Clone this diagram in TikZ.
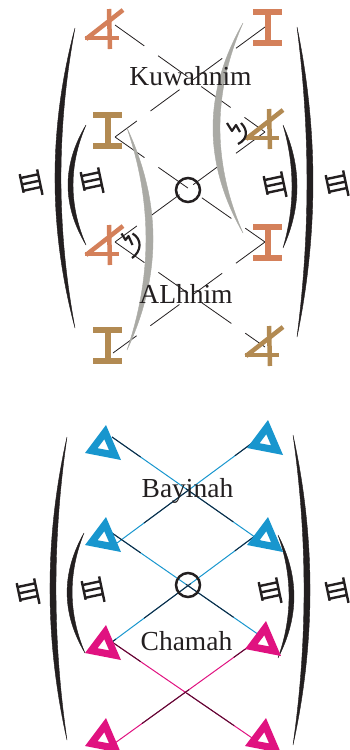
\documentclass[tikz,border=0pt]{standalone}
\usepackage{fontspec}
\setmainfont{Liberation Serif}
\definecolor{orangeG}{RGB}{212,128,90}
\definecolor{tanG}{RGB}{178,138,82}
\definecolor{cyanG}{RGB}{24,150,206}
\definecolor{magG}{RGB}{224,18,128}
\definecolor{navyG}{RGB}{20,40,62}
\definecolor{maroonG}{RGB}{85,15,48}
\definecolor{grayG}{RGB}{170,170,165}
\definecolor{inkG}{RGB}{35,31,32}
\begin{document}
\begin{tikzpicture}[x=1pt,y=-1pt,
  txt/.style={font=\fontsize{27.5}{30}\selectfont, text=inkG, inner sep=0pt, anchor=base},
  dashline/.style={draw=inkG, line width=0.8pt, dash pattern=on 36pt off 17pt},
  cyanline/.style={draw=cyanG, line width=1pt},
  navydash/.style={draw=navyG, line width=1pt, dash pattern=on 35pt off 55pt on 58pt off 35pt},
  magline/.style={draw=magG, line width=1pt},
  maroondash/.style={draw=maroonG, line width=1pt, dash pattern=on 35pt off 55pt on 58pt off 35pt},
  paren/.style={fill=inkG, draw=inkG, line width=0.4pt},
  grayarc/.style={fill=grayG, draw=grayG, line width=0.4pt},
  ring/.style={draw=inkG, line width=2.5pt, circle, minimum size=24pt, inner sep=0pt},
  alephg/.pic={
    \draw[line width=4.5pt] (24,1) -- (25,41);
    \draw[line width=4.5pt] (0,30) -- (34,30);
    \draw[line width=4.5pt] (1,31) -- (38,2);
  },
  ig/.pic={
    \draw[line width=6pt] (0,3) -- (29,3) (0,34) -- (29,34) (14.5,3) -- (14.5,34);
  },
  trig/.pic={
    \fill[even odd rule] (21,0) -- (0,28) -- (36,35) -- cycle
      (19.3,14.2) -- (12.6,23.2) -- (24.1,25.4) -- cycle;
  },
  hethg/.pic={
    \begin{scope}[rotate=12, draw=inkG, line width=2.4pt]
      \draw (-9,-12) -- (-9,7);
      \draw (9,-13) -- (9,13);
      \draw (-9,-8) -- (9,-8) (-9,-1.5) -- (9,-1.5) (-9,5) -- (9,5);
    \end{scope}
  }
]
\useasboundingbox (0,0) rectangle (349,750);

% ---------------- top diagram ----------------
\coordinate (a1e) at (115,25);
\coordinate (i1e) at (265,27);
\coordinate (i2e) at (115,137);
\coordinate (a2e) at (265,132);
\coordinate (a3e) at (115,242);
\coordinate (i3e) at (265,242);
\coordinate (i4e) at (113,353);
\coordinate (a4e) at (265,347);

\draw[dashline] (a1e) -- (a2e);
\draw[dashline] (i1e) -- (i2e);
\draw[dashline] (i2e) -- (i3e);
\draw[dashline] (a2e) -- (a3e);
\draw[dashline] (a3e) -- (a4e);
\draw[dashline] (i3e) -- (i4e);

% gray arcs
\path[grayarc] (127,128) .. controls (161.7,202) and (161.7,276) .. (127,350)
  .. controls (152.3,276) and (152.3,202) .. cycle;
\path[grayarc] (243,23) .. controls (203,93) and (203,163) .. (243,233)
  .. controls (212.3,163) and (212.3,93) .. cycle;

% parentheses top
\path[paren] (75,28) .. controls (48.3,128) and (48.3,228) .. (75,328)
  .. controls (56.3,228) and (56.3,128) .. cycle;
\path[paren] (86,125) .. controls (62,165) and (62,205) .. (86,245)
  .. controls (68.7,205) and (68.7,165) .. cycle;
\path[paren] (297,27) .. controls (318.3,130) and (318.3,234) .. (297,337)
  .. controls (310.3,234) and (310.3,130) .. cycle;
\path[paren] (283,125) .. controls (301.7,166) and (301.7,207) .. (283,248)
  .. controls (295,207) and (295,166) .. cycle;

% glyphs top
\pic[color=orangeG] at (85,8) {alephg};
\pic[color=orangeG] at (253,9) {ig};
\pic[color=tanG] at (93,112) {ig};
\pic[color=tanG] at (245,108) {alephg};
\pic[color=orangeG] at (85,224) {alephg};
\pic[color=orangeG] at (253,224) {ig};
\pic[color=tanG] at (93,327) {ig};
\pic[color=tanG] at (245,325) {alephg};

% small shin-like marks
\draw[inkG, line width=2.2pt, line join=round]
  (227,123) -- (232,131) -- (236,125) -- (240,132);
\draw[inkG, line width=2.2pt] (241,123) .. controls (248,130) and (248,139) .. (238,144);
\draw[inkG, line width=2.2pt, line join=round]
  (121.5,233.5) -- (125.5,240) -- (128.5,236) -- (132.5,245);
\draw[inkG, line width=2.2pt] (132.5,233.5) .. controls (142,239) and (142,251) .. (132,258);

% heth glyphs top
\pic at (31,184) {hethg};
\pic at (92,182) {hethg};
\pic at (275,186) {hethg};
\pic at (337,185) {hethg};

\node[ring] (c1) at (188,190) {};
\node[txt] (kuw) at (190.5,85) {Kuwahnim};
\node[txt] (alh) at (186,303) {ALhhim};

% ---------------- bottom diagram ----------------
\coordinate (btl) at (112,437);
\coordinate (btr) at (263,435);
\coordinate (bml) at (112,533);
\coordinate (bml2) at (117,543);
\coordinate (bmr) at (263,530);
\coordinate (bmr2) at (262,542);
\coordinate (mml) at (112,642);
\coordinate (mmr) at (262,637);
\coordinate (mbl) at (115,743);
\coordinate (mbr) at (258,742);

\draw[cyanline] (btl) -- (bmr2);
\draw[navydash] (btl) -- (bmr2);
\draw[cyanline] (btr) -- (bml2);
\draw[navydash] (btr) -- (bml2);
\draw[cyanline] (bml) -- (mmr);
\draw[navydash] (bml) -- (mmr);
\draw[cyanline] (bmr) -- (mml);
\draw[navydash] (bmr) -- (mml);
\draw[magline] (mml) -- (mbr);
\draw[maroondash] (mml) -- (mbr);
\draw[magline] (mmr) -- (mbl);
\draw[maroondash] (mmr) -- (mbl);

% parentheses bottom
\path[paren] (67,437) .. controls (44.3,538) and (44.3,639) .. (67,740)
  .. controls (52.3,639) and (52.3,538) .. cycle;
\path[paren] (84,533) .. controls (61.3,573) and (61.3,613) .. (85,653)
  .. controls (68,613) and (68,573) .. cycle;
\path[paren] (293,435) .. controls (315.7,538) and (315.7,642) .. (293,745)
  .. controls (307.7,642) and (307.7,538) .. cycle;
\path[paren] (278,535) .. controls (299.3,576) and (299.3,617) .. (278,658)
  .. controls (292.7,617) and (292.7,576) .. cycle;

% triangles
\pic[color=cyanG] at (85,425) {trig};
\pic[color=cyanG] at (247,420) {trig};
\pic[color=cyanG] at (85,517) {trig};
\pic[color=cyanG] at (247,517) {trig};
\pic[color=magG] at (85,625) {trig};
\pic[color=magG] at (245,621) {trig};
\pic[color=magG] at (85,718) {trig};
\pic[color=magG] at (245,718) {trig};

% heth glyphs bottom
\pic at (28,593) {hethg};
\pic at (93,591) {hethg};
\pic at (270,592) {hethg};
\pic at (337,592) {hethg};

\node[ring] (c2) at (188,585) {};
\node[txt] (bay) at (187.5,497) {Bayinah};
\node[txt] (cha) at (186.5,650) {Chamah};
\end{tikzpicture}
\end{document}
